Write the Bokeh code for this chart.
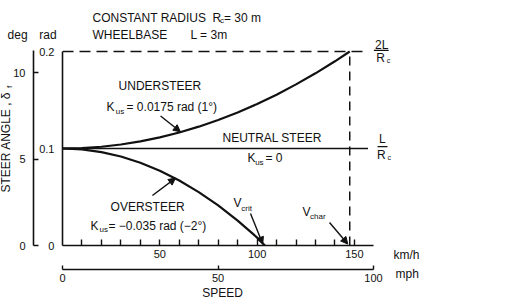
from bokeh.plotting import figure
from bokeh.layouts import column
from bokeh.models import Range1d, LinearAxis, FixedTicker, Label, Arrow, NormalHead
from bokeh.embed import file_html
from bokeh.resources import INLINE

# ---- data ----
speed_us = [0, 10, 20, 30, 40, 50, 60, 70, 80, 90, 100, 110, 120, 130, 140, 147.6]
delta_us = [0.1, 0.1005, 0.1018, 0.1041, 0.1073, 0.1115, 0.1165, 0.1225, 0.1294,
            0.1372, 0.1459, 0.1555, 0.1661, 0.1775, 0.1899, 0.2]
speed_os = [0, 10, 20, 30, 40, 50, 60, 70, 80, 90, 100, 104]
delta_os = [0.1, 0.0991, 0.0963, 0.0917, 0.0853, 0.0771, 0.0670, 0.0550, 0.0413,
            0.0257, 0.0082, 0.0]
speed_neutral = [0, 157]
delta_neutral = [0.1, 0.1]
v_char = 147.6
v_crit = 104
delta_2L = 0.2
rad_ticks = [0, 0.1, 0.2]
rad_labels = ["0", "0.1", "0.2"]
deg_ticks = [0, 5, 10]
kmh_ticks = [50, 100, 150]
kmh_minor = [10, 20, 30, 40, 60, 70, 80, 90, 110, 120, 130, 140]
mph_ticks = [0, 50, 100]

FONT = "Liberation Sans"
INK = "#111111"
W, H = 531, 299
LEFT = 62

# ---------- main chart: curves and axes ----------
p = figure(width=W, height=H, output_backend="svg", toolbar_location=None,
           x_range=Range1d(0, 241.0), y_range=Range1d(0, 0.25258),
           min_border_left=LEFT, min_border_right=0, min_border_top=0, min_border_bottom=54)
p.extra_y_ranges = {"deg": Range1d(0, 14.2)}
p.extra_x_ranges = {"mph": Range1d(0, 150.8)}
p.outline_line_color = None
p.xgrid.visible = False
p.ygrid.visible = False
p.background_fill_color = "white"
p.border_fill_color = "white"

def style_axis(ax, tick_in, standoff):
    ax.axis_line_color = INK
    ax.axis_line_width = 1.6
    ax.major_tick_line_color = INK
    ax.minor_tick_line_color = INK
    ax.major_tick_line_width = 1.4
    ax.minor_tick_line_width = 1.4
    ax.major_tick_in = tick_in
    ax.major_tick_out = 0
    ax.minor_tick_in = tick_in
    ax.minor_tick_out = 0
    ax.major_label_standoff = standoff
    ax.major_label_text_font = FONT
    ax.major_label_text_font_size = "11px"
    ax.major_label_text_color = INK

# rad axis (inner left)
rad_ax = p.yaxis[0]
rad_ax.ticker = FixedTicker(ticks=rad_ticks)
rad_ax.bounds = (0, 0.2)
style_axis(rad_ax, 0, 8)
rad_ax.major_tick_line_color = None
rad_ax.major_label_overrides = {t: "\u00a0" + s for t, s in zip(rad_ticks, rad_labels)}

# deg axis (outer left)
deg_ax = LinearAxis(y_range_name="deg", ticker=FixedTicker(ticks=deg_ticks), bounds=(0, 11.3))
style_axis(deg_ax, 5, 8)
p.add_layout(deg_ax, "left")

# km/h axis (inner bottom)
kmh_ax = p.xaxis[0]
kmh_ax.ticker = FixedTicker(ticks=kmh_ticks, minor_ticks=kmh_minor)
kmh_ax.bounds = (0, 160)
style_axis(kmh_ax, 6, 4)
kmh_ax.axis_label = "\u00a0"
kmh_ax.axis_label_text_font_size = "3px"
kmh_ax.axis_label_standoff = 3

# mph axis (outer bottom)
mph_ax = LinearAxis(x_range_name="mph", ticker=FixedTicker(ticks=mph_ticks), bounds=(0, 100))
style_axis(mph_ax, 4, 4)
mph_ax.minor_tick_line_color = None
p.add_layout(mph_ax, "below")

p.line(speed_us, delta_us, line_color=INK, line_width=2.2)
p.line(speed_os, delta_os, line_color=INK, line_width=2.2)
p.line(speed_neutral, delta_neutral, line_color=INK, line_width=1.6)
p.line([0, speed_neutral[1]], [delta_2L, delta_2L], line_color=INK, line_width=1.5, line_dash="11 6")
p.line([v_char, v_char], [0, delta_2L], line_color=INK, line_width=1.5, line_dash="9 6")

# ---------- transparent overlay (same scale) for the annotations ----------
# shifted left by LEFT px, so its frame spans page x = 0 .. W - LEFT
q = figure(width=W, height=H, output_backend="svg", toolbar_location=None,
           x_range=Range1d(-31.86, 209.14), y_range=Range1d(-0.05567, 0.25258),
           x_axis_location=None, y_axis_location=None,
           min_border_left=LEFT, min_border_right=0, min_border_top=0, min_border_bottom=0)
q.outline_line_color = None
q.xgrid.visible = False
q.ygrid.visible = False
q.background_fill_color = None
q.border_fill_color = None
q.margin = (-H, 0, 0, -LEFT)

def lab(x, y, text, size="12px", align="left", angle=0):
    q.add_layout(Label(x=x, y=y, text=text, text_font=FONT, text_font_size=size,
                       text_color=INK, text_align=align, text_baseline="middle",
                       angle=angle, angle_units="deg"))

def arrow(x0, y0, x1, y1):
    q.add_layout(Arrow(end=NormalHead(size=7, fill_color=INK, line_color=INK, line_width=1),
                       x_start=x0, y_start=y0, x_end=x1, y_end=y1,
                       line_color=INK, line_width=1.4))

# header
lab(15.4, 0.235, "CONSTANT  RADIUS")
lab(77.1, 0.235, "R")
lab(80.9, 0.2318, "c", size="8px")
lab(83.0, 0.235, "= 30 m")
lab(15.4, 0.2165, "WHEELBASE")
lab(65.8, 0.2165, "L = 3m")
lab(-23.1, 0.2165, "deg", align="center")
lab(-7.45, 0.2165, "rad", align="center")

# y axis title
lab(-28.8, 0.0546, "STEER  ANGLE , \u03b4", angle=90)
lab(-27.2, 0.1625, "f", size="8px", angle=90)

# understeer
lab(28.8, 0.164, "UNDERSTEER")
lab(22.6, 0.1433, "K")
lab(27.4, 0.1385, "us", size="8px")
lab(32.9, 0.1433, "= 0.0175 rad (1\u00b0)")
arrow(50.4, 0.1335, 60.6, 0.1172)

# neutral
lab(82.2, 0.1113, "NEUTRAL  STEER")
lab(95.1, 0.0902, "K")
lab(99.0, 0.0852, "us", size="8px")
lab(104.3, 0.0902, "= 0")

# oversteer
lab(24.7, 0.0392, "OVERSTEER")
lab(14.4, 0.0206, "K")
lab(19.0, 0.0160, "us", size="8px")
lab(23.6, 0.0206, "= \u22120.035 rad (\u22122\u00b0)")
arrow(46.2, 0.0515, 58.1, 0.0695)

# V crit / V char
lab(87.9, 0.0433, "V")
lab(91.9, 0.0385, "crit", size="8px")
arrow(96.6, 0.0330, 102.9, 0.0015)
lab(123.3, 0.0350, "V")
lab(127.2, 0.0300, "char", size="8px")
arrow(137.2, 0.0237, 146.6, 0.0015)

# right-hand fractions
lab(164.0, 0.2070, "2L", align="center")
q.line([160.0, 167.6], [0.2012, 0.2012], line_color=INK, line_width=1.3)
lab(163.4, 0.1935, "R", align="center")
lab(166.6, 0.1910, "c", size="7px")
lab(164.4, 0.1093, "L", align="center")
q.line([161.9, 167.0], [0.1020, 0.1020], line_color=INK, line_width=1.3)
lab(163.8, 0.0928, "R", align="center")
lab(167.0, 0.0905, "c", size="7px")

# axis unit labels and title
lab(170.1, -0.0093, "km/h")
lab(171.1, -0.0289, "mph")
lab(82.2, -0.0490, "SPEED", align="center")

layout = column(p, q, spacing=0)
open("out.html", "w").write(file_html(layout, INLINE))
